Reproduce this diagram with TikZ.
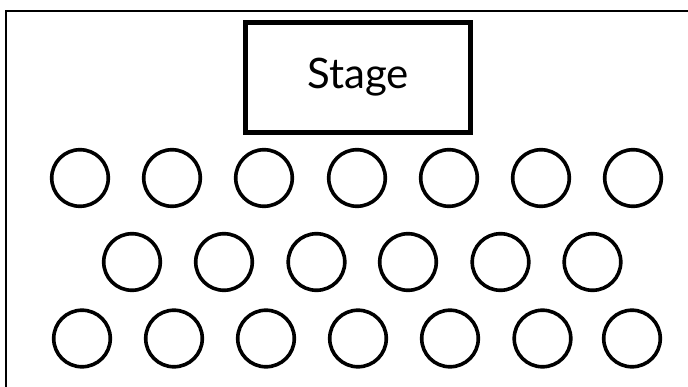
\documentclass[tikz,border=0pt]{standalone}
\usepackage{fontspec}
\setmainfont{Lato}
\begin{document}
\begin{tikzpicture}[x=1pt,y=-1pt,
  seat/.style={circle,draw=black,line width=3.6pt,minimum size=56.6pt,inner sep=0pt},
  stagebox/.style={draw=black,line width=5pt,minimum width=225pt,minimum height=110pt,inner sep=0pt,font=\fontsize{42}{44}\selectfont}]
\useasboundingbox (0,0) rectangle (688,387);
\begin{scope}
\clip (0,0) rectangle (688,387);
\draw[line width=2pt] (6,11) rectangle (720,420);
\end{scope}
\node[stagebox] (stage) at (358,77.5) {Stage};
\foreach \x [count=\i] in {80,172,264,357,449,541,633}
  \node[seat] (a\i) at (\x,178) {};
\foreach \x [count=\i] in {132,224,316.5,408,500.5,592.5}
  \node[seat] (b\i) at (\x,262) {};
\foreach \x [count=\i] in {82,174,266,358,450,542.5,632}
  \node[seat] (c\i) at (\x,338.5) {};
\end{tikzpicture}
\end{document}
